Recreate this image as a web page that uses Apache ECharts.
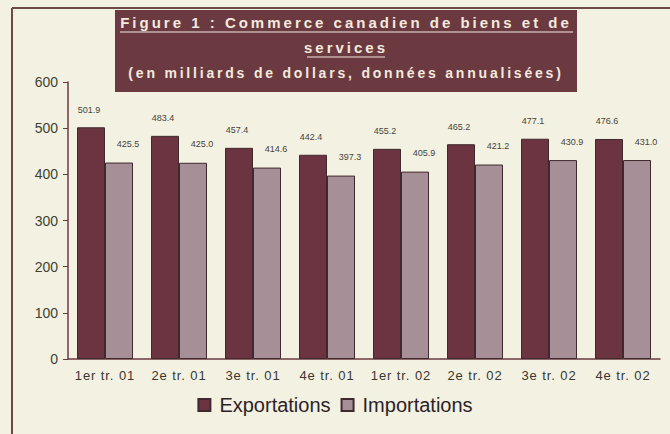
<!DOCTYPE html>
<html>
<head>
<meta charset="utf-8">
<script src="https://cdn.jsdelivr.net/npm/echarts@6/dist/echarts.min.js"></script>
<style>
  html, body { margin: 0; padding: 0; background: #f3f1e1; }
  #main { width: 670px; height: 434px; }
  /* wide tracking of the scanned title and axis labels */
  #main text[fill="#f3e9df"] { letter-spacing: 3px; }
  #main text[fill="#f3e9de"] { letter-spacing: 2.8px; }
  #main text[fill="#3a3630"] { letter-spacing: 0.9px; }
</style>
</head>
<body>
<div id="main"></div>
<script>
var categories = ['1er tr. 01', '2e tr. 01', '3e tr. 01', '4e tr. 01', '1er tr. 02', '2e tr. 02', '3e tr. 02', '4e tr. 02'];
var exportations = [501.9, 483.4, 457.4, 442.4, 455.2, 465.2, 477.1, 476.6];
var importations = [425.5, 425.0, 414.6, 397.3, 405.9, 421.2, 430.9, 431.0];
var titleLine1 = 'Figure 1 : Commerce canadien de biens et de';
var titleLine2 = 'services';
var subtitle = '(en milliards de dollars, données annualisées)';

var chart = echarts.init(document.getElementById('main'), null, { renderer: 'svg' });

var titleColor = '#f3e9df';
var subColor = '#f3e9de';
var boxColor = '#6b3a40';

var option = {
    backgroundColor: '#f3f1e1',
    animation: false,
    textStyle: { fontFamily: 'Liberation Sans' },
    grid: { left: 68, right: 10, top: 82, bottom: 75 },
    legend: {
        bottom: 14,
        left: 'center',
        itemWidth: 12,
        itemHeight: 12,
        itemGap: 10,
        icon: 'rect',
        textStyle: { fontSize: 20, color: '#2b2326', padding: [0, 0, 0, 4] },
        data: ['Exportations', 'Importations']
    },
    xAxis: {
        type: 'category',
        data: categories,
        axisLine: { lineStyle: { color: '#6b3a40', width: 1.5 } },
        axisTick: { length: 4, lineStyle: { color: '#6b3a40' } },
        axisLabel: { fontSize: 13, color: '#3a3630', margin: 10 }
    },
    yAxis: {
        type: 'value',
        min: 0,
        max: 600,
        interval: 100,
        splitLine: { show: false },
        axisLine: { show: true, lineStyle: { color: '#6b3a40', width: 1.5 } },
        axisTick: { show: true, length: 5, lineStyle: { color: '#6b3a40' } },
        axisLabel: { fontSize: 14, color: '#3e4232', margin: 10 }
    },
    series: [
        {
            name: 'Exportations',
            type: 'bar',
            data: exportations,
            barWidth: 28,
            barGap: '0%',
            itemStyle: { color: '#6b3440', borderColor: '#3e2a2e', borderWidth: 1 },
            label: {
                show: true,
                position: 'top',
                offset: [-2, -8],
                fontSize: 9,
                color: '#44443e',
                formatter: function (p) { return p.value.toFixed(1); }
            }
        },
        {
            name: 'Importations',
            type: 'bar',
            data: importations,
            barWidth: 28,
            itemStyle: { color: '#a68f96', borderColor: '#3e2a2e', borderWidth: 1 },
            label: {
                show: true,
                position: 'top',
                offset: [9, -9],
                fontSize: 9,
                color: '#44443e',
                formatter: function (p) { return p.value.toFixed(1); }
            }
        }
    ],
    graphic: [
        // frame of the scanned figure
        { type: 'line', shape: { x1: 12, y1: 8, x2: 670, y2: 8 }, style: { stroke: '#6b4a48', lineWidth: 2 } },
        { type: 'line', shape: { x1: 12, y1: 8, x2: 12, y2: 434 }, style: { stroke: '#6b4a48', lineWidth: 2 } },
        // title box
        { type: 'rect', shape: { x: 115, y: 10, width: 462, height: 82 }, style: { fill: boxColor } },
        {
            type: 'text', x: 346, y: 22,
            style: { text: titleLine1, fill: titleColor, font: 'bold 15px "Liberation Sans"', align: 'center', verticalAlign: 'middle' }
        },
        { type: 'line', shape: { x1: 120, y1: 32, x2: 573, y2: 32 }, style: { stroke: titleColor, lineWidth: 1.2 } },
        {
            type: 'text', x: 346, y: 47,
            style: { text: titleLine2, fill: titleColor, font: 'bold 15px "Liberation Sans"', align: 'center', verticalAlign: 'middle' }
        },
        { type: 'line', shape: { x1: 307, y1: 57, x2: 385, y2: 57 }, style: { stroke: titleColor, lineWidth: 1.2 } },
        {
            type: 'text', x: 346, y: 73,
            style: { text: subtitle, fill: subColor, font: 'bold 14px "Liberation Sans"', align: 'center', verticalAlign: 'middle' }
        }
    ]
};

chart.setOption(option);
</script>
</body>
</html>
